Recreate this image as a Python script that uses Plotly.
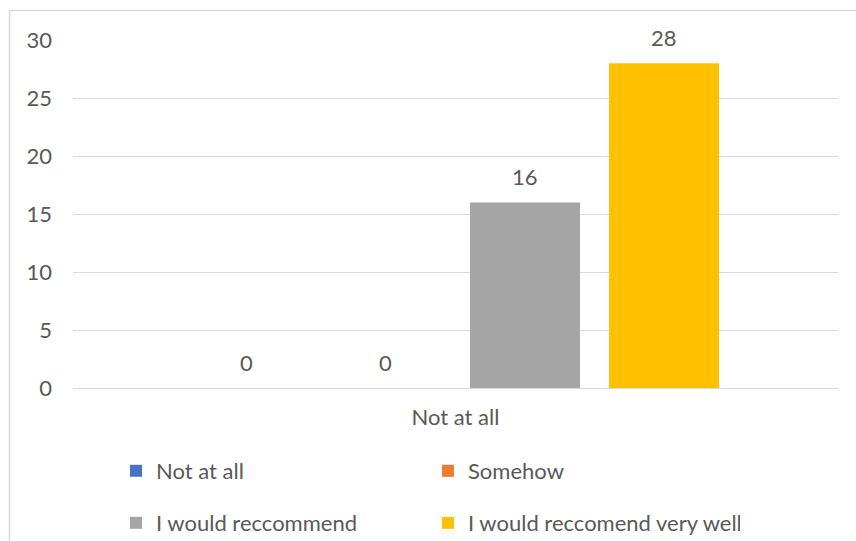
import plotly.graph_objects as go

categories = ["Not at all"]
series_names = ["Not at all", "Somehow", "I would reccommend", "I would reccomend very well"]
series_values = [[0], [0], [16], [28]]
series_colors = ["#4472C4", "#ED7D31", "#A5A5A5", "#FFC000"]
legend_ids = ["legend", "legend", "legend2", "legend2"]
y_ticks = [0, 5, 10, 15, 20, 25, 30]

FONT = "Lato, Calibri, Carlito, Liberation Sans, sans-serif"
TXT = "#595959"
GRID = "#D9D9D9"

W, H = 856, 541
L, R, T, B = 73, 18, 40, 153
pw, ph = W - L - R, H - T - B
BARGAP, GROUPGAP = 0.273, 0.209

def px_x(p):
    return (p - L) / pw

def px_y(p):
    return (H - B - p) / ph

fig = go.Figure()
n = len(series_names)
slot = pw / len(categories) * (1 - BARGAP) / n
annotations = []
for i, (name, vals, col, lg) in enumerate(zip(series_names, series_values, series_colors, legend_ids)):
    fig.add_trace(go.Bar(
        x=categories, y=vals, name=name, marker_color=col, marker_line_width=0,
        legend=lg,
    ))
    for c, v in zip(categories, vals):
        annotations.append(dict(
            x=c, y=v, xref="x", yref="y", text=str(v), showarrow=False,
            xanchor="center", yanchor="bottom", xshift=(i - (n - 1) / 2) * slot, yshift=10,
            font=dict(family=FONT, size=22, color=TXT),
        ))

fig.update_layout(
    width=W, height=H,
    margin=dict(l=L, r=R, t=T, b=B, autoexpand=False),
    paper_bgcolor="white", plot_bgcolor="white",
    barmode="group", bargap=BARGAP, bargroupgap=GROUPGAP,
    font=dict(family=FONT, size=22, color=TXT),
    legend=dict(orientation="h", x=px_x(116), y=px_y(471), xanchor="left", yanchor="middle",
                entrywidth=267, entrywidthmode="pixels", font=dict(size=22, color=TXT),
                bgcolor="rgba(0,0,0,0)"),
    legend2=dict(orientation="h", x=px_x(116), y=px_y(523), xanchor="left", yanchor="middle",
                 entrywidth=267, entrywidthmode="pixels", font=dict(size=22, color=TXT),
                 bgcolor="rgba(0,0,0,0)"),
    xaxis=dict(showgrid=False, showline=False, ticks="", ticklabelstandoff=14,
               tickfont=dict(size=22, color=TXT)),
    yaxis=dict(range=[0, 30], tickvals=y_ticks, showgrid=True, gridcolor=GRID, gridwidth=1,
               zeroline=True, zerolinecolor=GRID, zerolinewidth=1, showline=False,
               ticks="", ticklabelstandoff=20, tickfont=dict(size=22, color=TXT)),
    annotations=annotations,
    shapes=[dict(type="rect", xref="paper", yref="paper",
                 x0=px_x(9.5), x1=px_x(870), y0=px_y(560), y1=px_y(10.5),
                 line=dict(color=GRID, width=1.5), fillcolor="rgba(0,0,0,0)", layer="below")],
)

fig.write_html("out.html")
